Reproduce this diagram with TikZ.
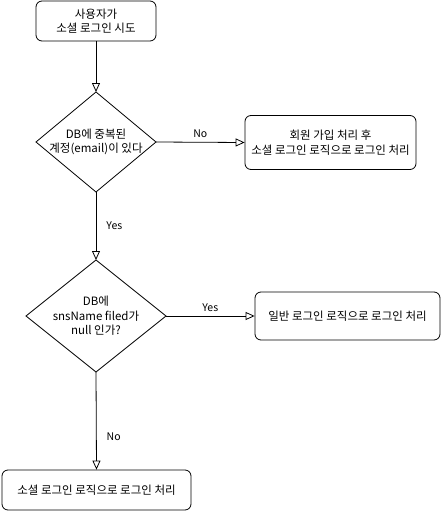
\documentclass[tikz,border=0pt]{standalone}
\usepackage{fontspec}
\setmainfont{Noto Sans CJK KR}
\usetikzlibrary{arrows.meta}
\tikzset{
  box/.style={draw=black, fill=white, rounded corners=6pt, line width=0.8pt, align=center, inner sep=0pt, font=\fontsize{11.5}{14.5}\selectfont},
  txt/.style={align=center, inner sep=0pt, font=\fontsize{11.5}{14.5}\selectfont},
  decshape/.style={draw=black, fill=white, line width=0.8pt},
  flow/.style={draw=black, line width=0.8pt, -{Triangle[open,length=9pt,width=8pt]}},
  lbl/.style={font=\fontsize{10.5}{12}\selectfont, fill=white, inner sep=1pt}
}
\begin{document}
\begin{tikzpicture}[x=1pt,y=-1pt]
\useasboundingbox (0,0) rectangle (442,511);
\node[box, minimum width=120pt, minimum height=40pt] (start) at (96,21) {사용자가\\소셜 로그인 시도};
\path[decshape] (96,92) -- (156,142) -- (96,192) -- (36,142) -- cycle;
\node[txt] (d1) at (96,142) {DB에 중복된\\계정(email)이 있다};
\coordinate (d1t) at (96,92); \coordinate (d1r) at (156,142); \coordinate (d1b) at (96,192);
\node[box, minimum width=171pt, minimum height=54pt] (join) at (330.5,142.5) {회원 가입 처리 후\\소셜 로그인 로직으로 로그인 처리};
\path[decshape] (96,260) -- (166,316) -- (96,372) -- (26,316) -- cycle;
\node[txt] (d2) at (96,316) {DB에\\snsName filed가\\null 인가?};
\coordinate (d2t) at (96,260); \coordinate (d2r) at (166,316); \coordinate (d2b) at (96,372);
\node[box, minimum width=185pt, minimum height=48pt] (normal) at (347.5,316) {일반 로그인 로직으로 로그인 처리};
\node[box, minimum width=189pt, minimum height=40pt] (social) at (96.5,490) {소셜 로그인 로직으로 로그인 처리};
\draw[flow] (start.south) -- (d1t);
\draw[flow] (d1r) -- (join.west) node[lbl, pos=0.5, above=3pt] {No};
\draw[flow] (d1b) -- (d2t) node[lbl, pos=0.5, right=9pt] {Yes};
\draw[flow] (d2r) -- (normal.west) node[lbl, pos=0.5, above=3pt] {Yes};
\draw[flow] (d2b) -- (social.north) node[lbl, pos=0.66, right=9pt] {No};
\end{tikzpicture}
\end{document}
